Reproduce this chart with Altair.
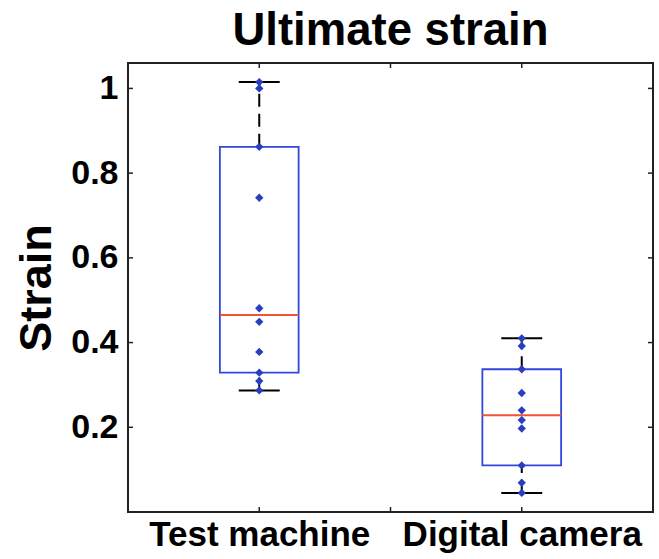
import altair as alt
import numpy as np
import pandas as pd

# ---- data ----
TITLE = "Ultimate strain"
CATEGORIES = ["Test machine", "Digital camera"]
TEST_MACHINE = [1.015, 1.0, 0.862, 0.742, 0.481, 0.449, 0.378, 0.329, 0.309, 0.287]
DIGITAL_CAMERA = [0.41, 0.392, 0.337, 0.281, 0.240, 0.217, 0.197, 0.110, 0.069, 0.045]
Y_TICKS = [0.2, 0.4, 0.6, 0.8, 1.0]
X_TICKS = [1, 1.5, 2]

series = [TEST_MACHINE, DIGITAL_CAMERA]

pts = pd.DataFrame(
    [{"pos": i + 1, "group": CATEGORIES[i], "value": v} for i, s in enumerate(series) for v in s]
)

rows = []
for i, s in enumerate(series):
    a = np.array(s)
    q1 = np.percentile(a, 25, method="hazen")
    med = np.percentile(a, 50, method="hazen")
    q3 = np.percentile(a, 75, method="hazen")
    iqr = q3 - q1
    lo = a[a >= q1 - 1.5 * iqr].min()
    hi = a[a <= q3 + 1.5 * iqr].max()
    rows.append({"pos": i + 1, "q1": q1, "med": med, "q3": q3, "lo": lo, "hi": hi})
box = pd.DataFrame(rows)

yt = pd.DataFrame({"v": Y_TICKS})
xt = pd.DataFrame({"v": X_TICKS})
tt = pd.DataFrame({"t": [TITLE]})

W, H = 525, 449
FONT = "Liberation Sans"
BOX_HALF = 0.15
CAP_HALF = 0.078

xs = alt.Scale(domain=[0.5, 2.5], nice=False, zero=False)
ys = alt.Scale(domain=[0.0, 1.06], nice=False, zero=False)

label_expr = " : ".join(
    [f"datum.value == {i + 1} ? '{c}'" for i, c in enumerate(CATEGORIES[:-1])] + [f"'{CATEGORIES[-1]}'"]
)

x_axis = alt.Axis(
    values=[1, 2], labelExpr=label_expr, ticks=False, domain=False, grid=False,
    labelFont=FONT, labelFontSize=35, labelFontWeight="bold", labelColor="black",
    labelPadding=5, labelFlush=False, labelOverlap=False, labelLimit=1000, title=None)
y_axis = alt.Axis(
    values=Y_TICKS, format=".1~f", ticks=False, domain=False, grid=False,
    labelFont=FONT, labelFontSize=34, labelFontWeight="bold", labelColor="black",
    labelPadding=10, title="Strain", titleFont=FONT, titleFontSize=45,
    titleFontWeight="bold", titleColor="black", titleAngle=270, titleX=-78,
    titleY=H / 2, titleAlign="center", titleBaseline="alphabetic")


def X(f):
    return alt.X(f, type="quantitative", scale=xs, axis=x_axis)


def Y(f):
    return alt.Y(f, type="quantitative", scale=ys, axis=y_axis)


base_box = alt.Chart(box).transform_calculate(
    xl=f"datum.pos - {BOX_HALF}", xr=f"datum.pos + {BOX_HALF}",
    cl=f"datum.pos - {CAP_HALF}", cr=f"datum.pos + {CAP_HALF}",
)

boxes = base_box.mark_rect(filled=False, stroke="#3346dc", strokeWidth=1.8).encode(
    x=X("xl"), x2="xr", y=Y("q1"), y2="q3")

medians = base_box.mark_rule(color="#f05535", strokeWidth=2).encode(
    x=X("xl"), x2="xr", y=Y("med"))

wh_up = base_box.mark_rule(color="black", strokeWidth=2, strokeDash=[13, 7]).encode(
    x=X("pos"), y=Y("q3"), y2="hi")
wh_lo = base_box.mark_rule(color="black", strokeWidth=2, strokeDash=[13, 7]).encode(
    x=X("pos"), y=Y("lo"), y2="q1")
cap_hi = base_box.mark_rule(color="black", strokeWidth=2).encode(
    x=X("cl"), x2="cr", y=Y("hi"))
cap_lo = base_box.mark_rule(color="black", strokeWidth=2).encode(
    x=X("cl"), x2="cr", y=Y("lo"))

points = alt.Chart(pts).mark_point(shape="diamond", filled=True, size=70, color="#2a3fbf", opacity=1).encode(
    x=X("pos"), y=Y("value"))

TL = 5
tk = dict(color="#222222", strokeWidth=1.5)
t_left = alt.Chart(yt).mark_rule(**tk).encode(y=Y("v"), x=alt.value(0), x2=alt.value(TL))
t_right = alt.Chart(yt).mark_rule(**tk).encode(y=Y("v"), x=alt.value(W - TL), x2=alt.value(W))
t_bot = alt.Chart(xt).mark_rule(**tk).encode(x=X("v"), y=alt.value(H), y2=alt.value(H - TL))
t_top = alt.Chart(xt).mark_rule(**tk).encode(x=X("v"), y=alt.value(0), y2=alt.value(TL))

title = alt.Chart(tt).mark_text(
    font=FONT, fontSize=45.5, fontWeight="bold", color="black",
    align="center", baseline="alphabetic",
).encode(text="t:N", x=alt.value(W / 2), y=alt.value(-18))

chart = alt.layer(
    boxes, wh_up, wh_lo, cap_hi, cap_lo, medians, points, t_left, t_right, t_bot, t_top, title
).properties(
    width=W, height=H,
    autosize=alt.AutoSizeParams(type="none"),
    padding={"left": 128, "top": 63, "right": 6, "bottom": 47},
).configure(background="white").configure_view(stroke="#222222", strokeWidth=2)

chart.save("out.html", embed_options={"renderer": "svg", "actions": False})
